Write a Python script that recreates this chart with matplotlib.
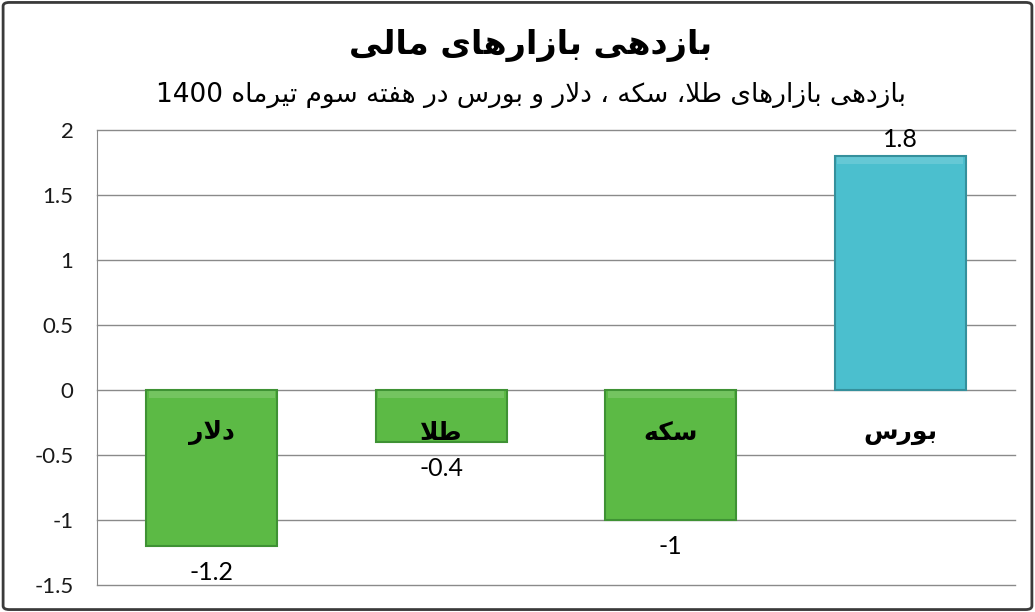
import re
import matplotlib
matplotlib.use("Agg")
import matplotlib.pyplot as plt
from matplotlib.patches import FancyBboxPatch

# -----------------------------
# Datos
# -----------------------------

categorias = ["دلار", "طلا", "سکه", "بورس"]
valores = [-1.2, -0.4, -1.0, 1.8]
etiquetas_valor = ["-1.2", "-0.4", "-1", "1.8"]
colores = ["#5cba45", "#5cba45", "#5cba45", "#4bbfce"]
bordes = ["#3f9234", "#3f9234", "#3f9234", "#35909c"]

titulo = "بازدهی بازارهای مالی"
subtitulo = "بازدهی بازارهای طلا، سکه ، دلار و بورس در هفته سوم تیرماه 1400"

yticks = [2, 1.5, 1, 0.5, 0, -0.5, -1, -1.5]
ytick_labels = ["2", "1.5", "1", "0.5", "0", "-0.5", "-1", "-1.5"]


# -----------------------------
# Formas contextuales (iso, fin, ini, med)
# -----------------------------

FORMAS = {
    "ا": ("\uFE8D", "\uFE8E", None, None),
    "ب": ("\uFE8F", "\uFE90", "\uFE91", "\uFE92"),
    "ت": ("\uFE95", "\uFE96", "\uFE97", "\uFE98"),
    "د": ("\uFEA9", "\uFEAA", None, None),
    "ر": ("\uFEAD", "\uFEAE", None, None),
    "ز": ("\uFEAF", "\uFEB0", None, None),
    "س": ("\uFEB1", "\uFEB2", "\uFEB3", "\uFEB4"),
    "ط": ("\uFEC1", "\uFEC2", "\uFEC3", "\uFEC4"),
    "ف": ("\uFED1", "\uFED2", "\uFED3", "\uFED4"),
    "ل": ("\uFEDD", "\uFEDE", "\uFEDF", "\uFEE0"),
    "م": ("\uFEE1", "\uFEE2", "\uFEE3", "\uFEE4"),
    "ه": ("\uFEE9", "\uFEEA", "\uFEEB", "\uFEEC"),
    "و": ("\uFEED", "\uFEEE", None, None),
    "ی": ("\uFBFC", "\uFBFD", "\uFBFE", "\uFBFF"),
    "ک": ("\uFB8E", "\uFB8F", "\uFB90", "\uFB91"),
}


def une_adelante(c):
    return c in FORMAS and FORMAS[c][2] is not None


def persa(texto):
    out = []
    prev_une = False
    i = 0
    n = len(texto)
    while i < n:
        c = texto[i]
        if c not in FORMAS:
            out.append(c)
            prev_une = False
            i += 1
            continue
        sig = texto[i + 1] if i + 1 < n else ""
        if c == "ل" and sig == "ا":
            out.append("\uFEFC" if prev_une else "\uFEFB")
            prev_une = False
            i += 2
            continue
        sig_une = sig in FORMAS and une_adelante(c)
        iso, fin, ini, med = FORMAS[c]
        if prev_une and sig_une:
            out.append(med)
        elif prev_une:
            out.append(fin)
        elif sig_une:
            out.append(ini)
        else:
            out.append(iso)
        prev_une = une_adelante(c)
        i += 1
    visual = "".join(out)[::-1]
    return re.sub(r"[0-9A-Za-z.]+", lambda m: m.group()[::-1], visual)


# -----------------------------
# Figura
# -----------------------------

fig = plt.figure(figsize=(10.35, 6.12), dpi=100)
ax = fig.add_axes([97 / 1035, 27 / 612, 918 / 1035, 455 / 612])

x = list(range(len(categorias)))
ax.bar(x, valores, width=0.57, color=colores, edgecolor=bordes,
       linewidth=1.5, zorder=3)

# brillo superior (bisel)
for xi, v in zip(x, valores):
    top = max(v, 0)
    ax.bar(xi, -0.05, bottom=top - 0.01, width=0.55, color="white",
           alpha=0.15, linewidth=0, zorder=4)

ax.set_xlim(-0.5, 3.5)
ax.set_ylim(-1.5, 2)
ax.set_yticks(yticks)
ax.set_yticklabels(ytick_labels, fontsize=16, family="Lato")
ax.tick_params(axis="y", length=0, pad=17, colors="#1a1a1a")
ax.set_xticks([])
ax.grid(axis="y", color="#8a8a8a", linewidth=1, zorder=0)
for gl in ax.get_ygridlines():
    gl.set_clip_on(False)

for s in ["top", "right", "bottom"]:
    ax.spines[s].set_visible(False)
ax.spines["left"].set_color("#8a8a8a")

for xi, cat in zip(x, categorias):
    ax.text(xi, -0.33, persa(cat), ha="center", va="center",
            fontsize=18, fontweight="bold", family="DejaVu Sans", zorder=5)

for xi, v, lab in zip(x, valores, etiquetas_valor):
    if v >= 0:
        ax.annotate(lab, (xi, v), xytext=(0, 12), textcoords="offset points",
                    ha="center", va="center", fontsize=18, family="Lato",
                    zorder=5)
    else:
        ax.annotate(lab, (xi, v), xytext=(0, -19), textcoords="offset points",
                    ha="center", va="center", fontsize=18, family="Lato",
                    zorder=5)

fig.text(0.513, 1 - 46 / 612, persa(titulo), ha="center", va="center",
         fontsize=24, fontweight="bold", family="DejaVu Sans")
fig.text(0.513, 1 - 95 / 612, persa(subtitulo), ha="center", va="center",
         fontsize=19, family="DejaVu Sans")

borde = FancyBboxPatch((0.003, 0.004), 0.994, 0.992,
                       boxstyle="round,pad=0,rounding_size=0.006",
                       transform=fig.transFigure, fill=False,
                       edgecolor="#3a3a3a", linewidth=2)
fig.patches.append(borde)

fig.savefig("out.png", dpi=100)
